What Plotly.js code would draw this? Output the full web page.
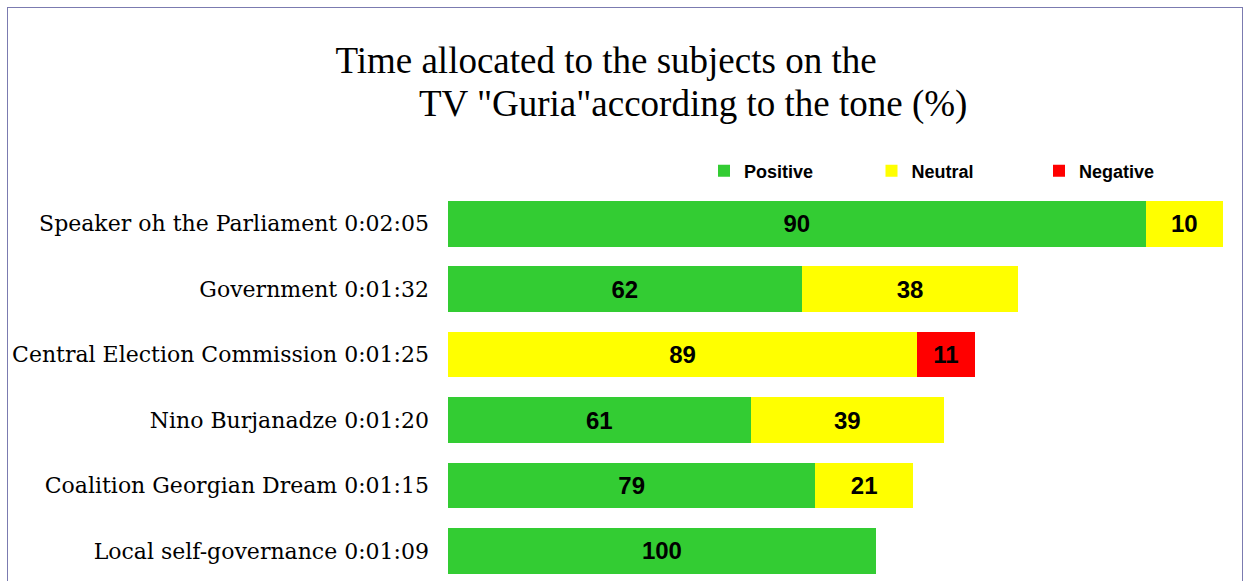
<!DOCTYPE html>
<html>
<head>
<meta charset="utf-8">
<script src="https://cdn.plot.ly/plotly-3.0.1.min.js"></script>
<style>
  body { margin: 0; background: #fff; overflow: hidden; }
  #chart { width: 1249px; height: 581px; }
  #frame {
    position: absolute; left: 7px; top: 7px; width: 1234px; height: 620px;
    border: 1px solid #7b7bb0; pointer-events: none;
  }
</style>
</head>
<body>
<div id="chart"></div>
<div id="frame"></div>
<script>
// Subjects and their total airtime (seconds)
const subjects = [
    'Speaker oh the Parliament 0:02:05',
    'Government 0:01:32',
    'Central Election Commission 0:01:25',
    'Nino Burjanadze 0:01:20',
    'Coalition Georgian Dream 0:01:15',
    'Local self-governance 0:01:09'
];
const durations = [125, 92, 85, 80, 75, 69];

// Tone shares (%)
const positive = [90, 62, 0, 61, 79, 100];
const neutral = [10, 38, 89, 39, 21, 0];
const negative = [0, 0, 11, 0, 0, 0];

const LABEL_FONT = 'Liberation Sans, Arial, sans-serif';
const SERIF = 'DejaVu Serif, serif';
const TITLE_FONT = { family: 'Liberation Serif, serif', size: 37, color: '#000' };

function makeTrace(name, pcts, color) {
    return {
        type: 'bar',
        orientation: 'h',
        name: name,
        y: subjects,
        // segment length = share of the subject's airtime
        x: pcts.map((p, i) => p * durations[i] / 100),
        text: pcts.map(p => p > 0 ? String(p) : ''),
        textposition: 'inside',
        insidetextanchor: 'middle',
        textangle: 0,
        insidetextfont: { family: LABEL_FONT, size: 24, color: '#000', weight: 'bold' },
        marker: { color: color, line: { width: 0 } },
        hoverinfo: 'skip'
    };
}

const traces = [
    makeTrace('Positive', positive, '#33cc33'),
    makeTrace('Neutral', neutral, '#ffff00'),
    makeTrace('Negative', negative, '#ff0000')
];

const layout = {
    width: 1249,
    height: 581,
    barmode: 'stack',
    bargap: 0.3,
    paper_bgcolor: '#fff',
    plot_bgcolor: '#fff',
    margin: { l: 448, r: 14, t: 191, b: 0 },
    title: {
        text: 'Time allocated to the subjects on the',
        font: TITLE_FONT,
        xref: 'container', x: 606 / 1249, xanchor: 'center',
        yref: 'container', y: 1 - 60 / 581, yanchor: 'middle'
    },
    annotations: [{
        text: 'TV "Guria"according to the tone (%)',
        font: TITLE_FONT,
        xref: 'paper', yref: 'paper',
        x: (693 - 448) / 787, xanchor: 'center',
        y: 1 + (191 - 104) / 390, yanchor: 'middle',
        showarrow: false
    }],
    showlegend: true,
    legend: {
        orientation: 'h',
        x: (704 - 448) / 787, xanchor: 'left',
        y: 1 + (191 - 171) / 390, yanchor: 'middle',
        entrywidth: 122.5,
        entrywidthmode: 'pixels',
        traceorder: 'normal',
        font: { family: LABEL_FONT, size: 18, color: '#000', weight: 'bold' }
    },
    xaxis: {
        range: [0, 787 / 6.2],
        showgrid: false, zeroline: false, showline: false,
        showticklabels: false, fixedrange: true
    },
    yaxis: {
        type: 'category',
        range: [5.46, -0.5],
        showgrid: false, zeroline: false, showline: false,
        ticks: '',
        ticklabelstandoff: 18,
        tickfont: { family: SERIF, size: 22, color: '#000' },
        fixedrange: true
    }
};

Plotly.newPlot('chart', traces, layout, { displayModeBar: false, staticPlot: true });
</script>
</body>
</html>
